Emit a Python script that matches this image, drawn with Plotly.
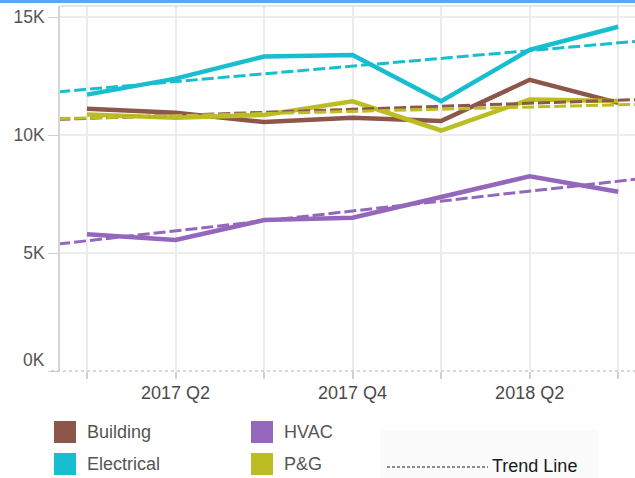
import numpy as np
import plotly.graph_objects as go

quarters = ["2017 Q1", "2017 Q2", "2017 Q3", "2017 Q4", "2018 Q1", "2018 Q2", "2018 Q3"]
tick_labels = ["", "2017 Q2", "", "2017 Q4", "", "2018 Q2", ""]

building = [11120, 10950, 10560, 10740, 10600, 12350, 11370]
electrical = [11720, 12400, 13340, 13400, 11440, 13620, 14600]
hvac = [5800, 5560, 6400, 6500, 7380, 8260, 7600]
pg = [10880, 10740, 10860, 11440, 10200, 11510, 11450]

series_names = ["Building", "Electrical", "HVAC", "P&G"]
series_values = [building, electrical, hvac, pg]
colors = {"Building": "#8c564b", "Electrical": "#17becf", "HVAC": "#9467bd", "P&G": "#bcbd22"}

y_ticks = [0, 5000, 10000, 15000]
y_tick_text = ["", "5K", "10K", "15K"]

W, H = 635, 478
L, R, T, B = 60, 0, 6, 107
PW, PH = W - L - R, H - T - B


def px(xp):
    return (xp - L) / PW


def py(yp):
    return (H - B - yp) / PH


FONT = "Arial, Liberation Sans, Helvetica, sans-serif"
x_idx = list(range(len(quarters)))
x_range = [-0.305, 6.19]

fig = go.Figure()

# solid series
for name, vals in zip(series_names, series_values):
    fig.add_trace(go.Scatter(
        x=x_idx, y=vals, mode="lines", name=name,
        line=dict(color=colors[name], width=4.5),
        hovertext=quarters, showlegend=False,
    ))

# linear trend lines (least squares on each series)
tx = np.array([x_range[0] - 0.2, x_range[1] + 0.2])
for name, vals in zip(series_names, series_values):
    k, b = np.polyfit(np.array(x_idx, dtype=float), np.array(vals, dtype=float), 1)
    fig.add_trace(go.Scatter(
        x=tx, y=k * tx + b, mode="lines", name=name + " trend",
        line=dict(color=colors[name], width=3, dash="12px,4px"),
        showlegend=False, hoverinfo="skip",
    ))

shapes = []
annotations = []

# top blue band
shapes.append(dict(type="rect", xref="paper", yref="paper",
                   x0=px(0), x1=px(W), y0=py(3), y1=py(0),
                   fillcolor="#5aa7f0", line=dict(width=0), layer="above"))
# top border line
shapes.append(dict(type="line", xref="paper", yref="paper",
                   x0=0, x1=1, y0=1, y1=1, line=dict(color="#dcdcdc", width=1.5)))
# dotted x axis line
shapes.append(dict(type="line", xref="paper", yref="paper",
                   x0=px(51), x1=1, y0=0, y1=0, line=dict(color="#b0b0b0", width=1, dash="dot")))

# 0K label (drawn slightly above the baseline)
annotations.append(dict(xref="paper", yref="y", x=px(47), y=0, yshift=11,
                        text="0K", showarrow=False, xanchor="right",
                        font=dict(family=FONT, size=17.5, color="#555555")))

# legend swatches
legend_layout = [("Building", 54, 421), ("HVAC", 251, 421), ("Electrical", 54, 453), ("P&G", 251, 453)]
for name, x0, y0 in legend_layout:
    shapes.append(dict(type="rect", xref="paper", yref="paper",
                       x0=px(x0), x1=px(x0 + 22), y0=py(y0 + 22), y1=py(y0),
                       fillcolor=colors[name], line=dict(width=0)))
    annotations.append(dict(xref="paper", yref="paper", x=px(x0 + 31), y=py(y0 + 11),
                            text=name, showarrow=False, xanchor="left", yanchor="middle",
                            font=dict(family=FONT, size=18, color="#555555")))

# trend line legend
shapes.append(dict(type="rect", xref="paper", yref="paper",
                   x0=px(380), x1=px(598), y0=py(478), y1=py(430),
                   fillcolor="#fbfbfb", line=dict(width=0), layer="below"))
shapes.append(dict(type="line", xref="paper", yref="paper",
                   x0=px(387), x1=px(488), y0=py(467), y1=py(467),
                   line=dict(color="#5f6873", width=1.5, dash="3px,2px")))
annotations.append(dict(xref="paper", yref="paper", x=px(490), y=py(466),
                        text="Trend Line", showarrow=False, xanchor="left", yanchor="middle",
                        font=dict(family=FONT, size=18, color="#1a1a1a")))

fig.update_layout(
    width=W, height=H,
    margin=dict(l=L, r=R, t=T, b=B, pad=0),
    paper_bgcolor="white", plot_bgcolor="white",
    showlegend=False,
    shapes=shapes, annotations=annotations,
    xaxis=dict(
        range=x_range, tickmode="array", tickvals=x_idx, ticktext=tick_labels,
        showgrid=True, gridcolor="#ececec", gridwidth=1.5,
        ticks="outside", ticklen=7, tickcolor="#d0d0d0", tickwidth=1.5,
        ticklabelstandoff=-2,
        showline=False, zeroline=False,
        tickfont=dict(family=FONT, size=18, color="#4a4a4a"),
    ),
    yaxis=dict(
        range=[0, 15480], tickmode="array", tickvals=y_ticks, ticktext=y_tick_text,
        showgrid=True, gridcolor="#ececec", gridwidth=1.5,
        ticks="outside", ticklen=10, tickcolor="#d0d0d0", tickwidth=1,
        showline=True, linecolor="#d6d6d6", linewidth=1.5, zeroline=False,
        tickfont=dict(family=FONT, size=17.5, color="#555555"),
    ),
)

fig.write_html(
    "out.html",
    config={"displayModeBar": False},
    post_script="document.body.style.margin='0px';document.body.style.overflow='hidden';",
)
